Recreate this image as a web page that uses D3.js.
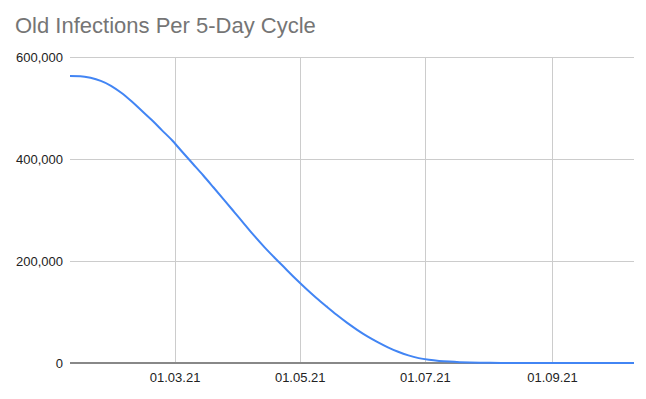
<!DOCTYPE html>
<html>
<head>
<meta charset="utf-8">
<script src="https://cdn.jsdelivr.net/npm/d3@7"></script>
<style>
  body { margin: 0; background: #fff; }
  svg { display: block; font-family: "Liberation Sans", Arial, sans-serif; }
</style>
</head>
<body>
<div id="chart"></div>
<script>
var svgWidth = 646;
var svgHeight = 399;

var margin = { top: 57, right: 12, bottom: 36, left: 70 };
var width = svgWidth - margin.left - margin.right;
var height = svgHeight - margin.top - margin.bottom;

// data: one point every 5 days, starting 09.01.2021
var startDate = "2021-01-09";
var stepDays = 5;
var oldInfections = [
  562750, 562400, 559200, 553200, 543600, 529800, 513000, 494500, 475900, 455700,
  435700, 412700, 390200, 367600, 344100, 320400, 296500, 272500, 248600, 226300,
  205500, 185300, 165100, 146100, 128000, 111000, 94500, 79200, 65100, 52200,
  41000, 30800, 22000, 14900, 9600, 6300, 4100, 2700, 1700, 1000,
  600, 350, 200, 110, 60, 30, 16, 8, 4, 2,
  1, 1, 0, 0, 0, 0
];
var yTicks = [0, 200000, 400000, 600000];
var xTickDates = ["2021-03-01", "2021-05-01", "2021-07-01", "2021-09-01"];

var parseDate = d3.timeParse("%Y-%m-%d");
var t0 = parseDate(startDate);
var data = oldInfections.map((v, i) => ({ date: d3.timeDay.offset(t0, i * stepDays), value: v }));

var svg = d3.select("#chart")
  .append("svg")
  .attr("width", svgWidth)
  .attr("height", svgHeight);

svg.append("text")
  .attr("x", 15)
  .attr("y", 33)
  .attr("fill", "#757575")
  .style("font-size", "22px")
  .text("Old Infections Per 5-Day Cycle");

var chartGroup = svg.append("g")
  .attr("transform", `translate(${margin.left},${margin.top})`);

var xScale = d3.scaleTime()
  .domain(d3.extent(data, d => d.date))
  .range([0, width]);

var yScale = d3.scaleLinear()
  .domain([0, 600000])
  .range([height, 0]);

// gridlines
chartGroup.append("g")
  .selectAll("line")
  .data(yTicks.filter(d => d > 0))
  .enter()
  .append("line")
  .attr("x1", 0)
  .attr("x2", width)
  .attr("y1", d => Math.round(yScale(d)) + 0.5)
  .attr("y2", d => Math.round(yScale(d)) + 0.5)
  .attr("stroke", "#cccccc");

chartGroup.append("g")
  .selectAll("line")
  .data(xTickDates.map(parseDate))
  .enter()
  .append("line")
  .attr("x1", d => Math.round(xScale(d)) + 0.5)
  .attr("x2", d => Math.round(xScale(d)) + 0.5)
  .attr("y1", 0)
  .attr("y2", height)
  .attr("stroke", "#cccccc");

// axes (labels only)
var leftAxis = d3.axisLeft(yScale)
  .tickValues(yTicks)
  .tickSize(0)
  .tickPadding(7)
  .tickFormat(d3.format(","));

var bottomAxis = d3.axisBottom(xScale)
  .tickValues(xTickDates.map(parseDate))
  .tickSize(0)
  .tickPadding(10)
  .tickFormat(d3.timeFormat("%d.%m.%y"));

var gy = chartGroup.append("g").call(leftAxis);
var gx = chartGroup.append("g")
  .attr("transform", `translate(0,${height})`)
  .call(bottomAxis);

[gx, gy].forEach(g => {
  g.select(".domain").remove();
  g.selectAll("text")
    .attr("fill", "#222222")
    .style("font-size", "13px")
    .style("font-family", "'Liberation Sans', Arial, sans-serif");
});

// baseline
chartGroup.append("line")
  .attr("x1", 0)
  .attr("x2", width)
  .attr("y1", yScale(0))
  .attr("y2", yScale(0))
  .attr("stroke", "#888888")
  .attr("stroke-width", 2);

// line
var line = d3.line()
  .x(d => xScale(d.date))
  .y(d => yScale(d.value))
  .curve(d3.curveMonotoneX);

chartGroup.append("path")
  .datum(data)
  .attr("fill", "none")
  .attr("stroke", "#4285f4")
  .attr("stroke-width", 2)
  .attr("d", line);
</script>
</body>
</html>
